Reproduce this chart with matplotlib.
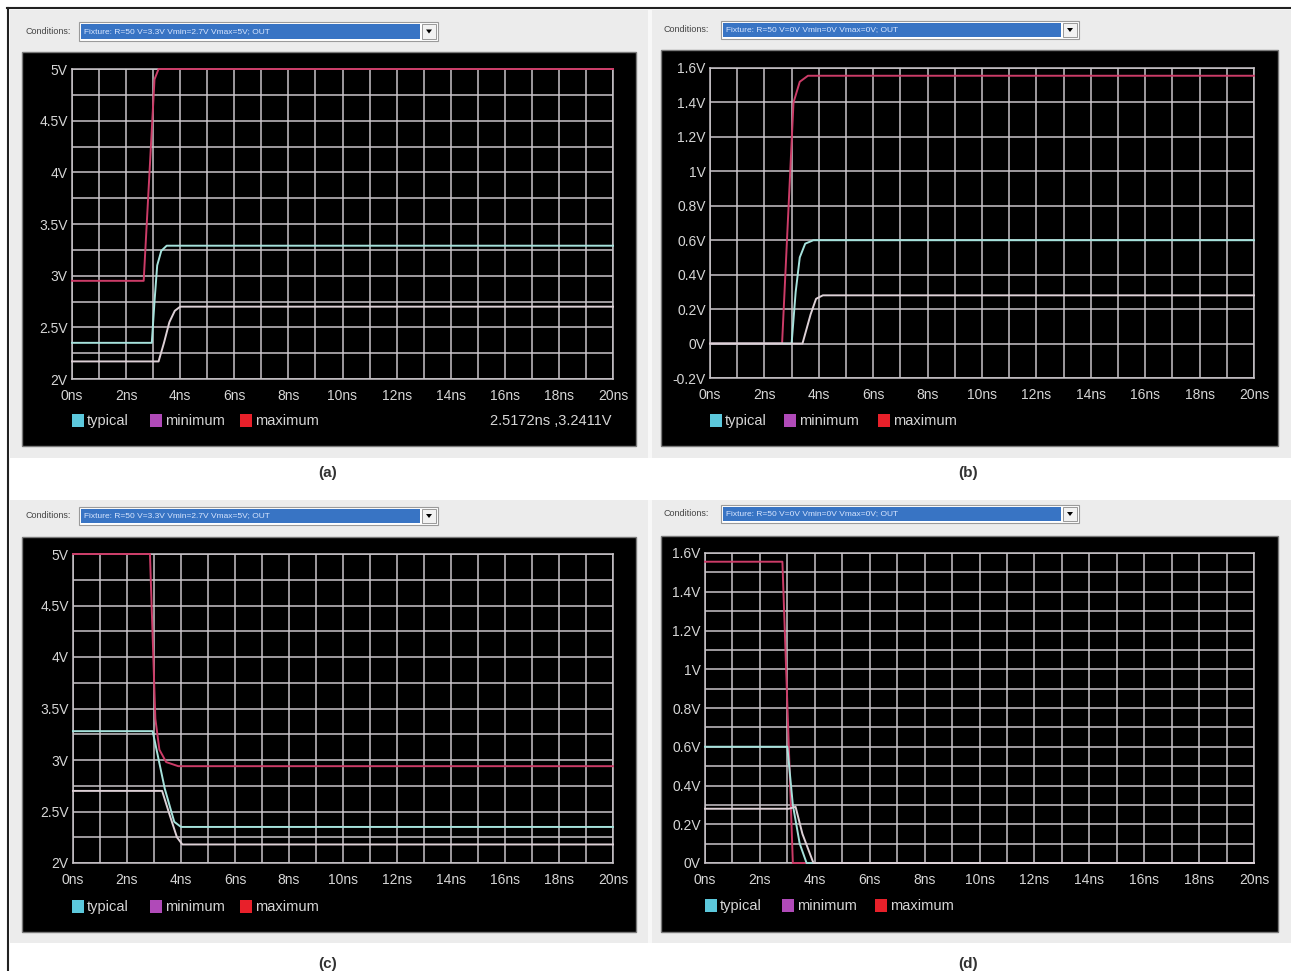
import matplotlib
matplotlib.use("Agg")
import matplotlib.pyplot as plt
from matplotlib.patches import Rectangle, Polygon

plt.rcParams['font.family'] = ['Liberation Sans', 'DejaVu Sans']

W, H = 1291, 971

# ---- data (time in ns, voltage in V) ----
legend_labels = ['typical', 'minimum', 'maximum']
x_ticks = list(range(0, 21, 2))
x_ticklabels = ['%dns' % t for t in x_ticks]

cond_5v = 'Fixture: R=50 V=3.3V Vmin=2.7V Vmax=5V; OUT'
cond_0v = 'Fixture: R=50 V=0V Vmin=0V Vmax=0V; OUT'
readout_a = '2.5172ns ,3.2411V'

y_ticks_5v = [2, 2.5, 3, 3.5, 4, 4.5, 5]
y_labels_5v = ['2V', '2.5V', '3V', '3.5V', '4V', '4.5V', '5V']
y_ticks_b = [-0.2, 0, 0.2, 0.4, 0.6, 0.8, 1.0, 1.2, 1.4, 1.6]
y_labels_b = ['-0.2V', '0V', '0.2V', '0.4V', '0.6V', '0.8V', '1V', '1.2V', '1.4V', '1.6V']
y_ticks_d = [0, 0.2, 0.4, 0.6, 0.8, 1.0, 1.2, 1.4, 1.6]
y_labels_d = ['0V', '0.2V', '0.4V', '0.6V', '0.8V', '1V', '1.2V', '1.4V', '1.6V']

# (a) rising edge, 5V fixture
a_typ_t = [0, 2.95, 3.05, 3.15, 3.3, 3.5, 20]
a_typ_v = [2.35, 2.35, 2.75, 3.1, 3.24, 3.29, 3.29]
a_min_t = [0, 3.2, 3.4, 3.6, 3.8, 4.0, 20]
a_min_v = [2.17, 2.17, 2.35, 2.55, 2.66, 2.7, 2.7]
a_max_t = [0, 2.65, 3.05, 3.2, 20]
a_max_v = [2.95, 2.95, 4.9, 5.0, 5.0]

# (b) rising edge, 0V fixture
b_typ_t = [0, 3.0, 3.15, 3.3, 3.5, 3.8, 20]
b_typ_v = [0, 0, 0.3, 0.5, 0.58, 0.6, 0.6]
b_min_t = [0, 3.4, 3.7, 3.9, 4.15, 20]
b_min_v = [0, 0, 0.17, 0.26, 0.28, 0.28]
b_max_t = [0, 2.65, 3.07, 3.3, 3.6, 20]
b_max_v = [0, 0, 1.4, 1.52, 1.555, 1.555]

# (c) falling edge, 5V fixture
c_typ_t = [0, 2.95, 3.4, 3.75, 4.0, 20]
c_typ_v = [3.28, 3.28, 2.72, 2.4, 2.35, 2.35]
c_min_t = [0, 3.3, 3.6, 3.85, 4.05, 20]
c_min_v = [2.7, 2.7, 2.45, 2.25, 2.18, 2.18]
c_max_t = [0, 2.85, 3.05, 3.2, 3.45, 3.9, 20]
c_max_v = [5.0, 5.0, 3.4, 3.1, 2.98, 2.94, 2.94]

# (d) falling edge, 0V fixture
d_typ_t = [0, 3.0, 3.2, 3.45, 3.7, 20]
d_typ_v = [0.6, 0.6, 0.3, 0.1, 0, 0]
d_min_t = [0, 3.05, 3.3, 3.55, 3.95, 20]
d_min_v = [0.28, 0.28, 0.29, 0.15, 0, 0]
d_max_t = [0, 2.82, 3.2, 20]
d_max_v = [1.555, 1.555, 0, 0]

# ---- styles ----
grid_c = '#c9c5c9'
label_c = '#d6d6d6'
trace_c = ['#a6e2dc', '#ddd0d6', '#cc3c68']
swatch_c = ['#5cc8dc', '#b04ab8', '#e8202a']
win_c = '#ececec'

fig = plt.figure(figsize=(W / 100, H / 100), dpi=100, facecolor='white')


def frac(x0, y0, x1, y1):
    return [x0 / W, 1 - y1 / H, (x1 - x0) / W, (y1 - y0) / H]


def rect(x0, y0, x1, y1, **kw):
    l, b, w, h = frac(x0, y0, x1, y1)
    fig.add_artist(Rectangle((l, b), w, h, transform=fig.transFigure, **kw))


def ftext(x, y, s, **kw):
    fig.text(x / W, 1 - y / H, s, **kw)


# window backgrounds and frame
rect(10, 10, 1291, 458, facecolor=win_c, edgecolor='none')
rect(10, 500, 1291, 943, facecolor=win_c, edgecolor='none')
rect(648, 10, 652, 458, facecolor='#f8f8f8', edgecolor='none')
rect(648, 500, 652, 943, facecolor='#f8f8f8', edgecolor='none')
fig.add_artist(plt.Line2D([7 / W, 1], [1 - 8 / H, 1 - 8 / H], transform=fig.transFigure,
                          color='#222222', lw=1.5))
fig.add_artist(plt.Line2D([8 / W, 8 / W], [0, 1 - 8 / H], transform=fig.transFigure,
                          color='#222222', lw=1.5))

panels = [
    dict(box=(22, 52, 636, 446), plot=(72, 69, 613, 379), ylim=(2, 5),
         yt=y_ticks_5v, yl=y_labels_5v, ystep=0.25, cond=cond_5v,
         cbox=(80, 23, 437, 40), clab=(25, 31), legy=421, legx=(72, 150, 240),
         data=[(a_typ_t, a_typ_v), (a_min_t, a_min_v), (a_max_t, a_max_v)],
         cap='(a)', capxy=(328, 473), readout=readout_a),
    dict(box=(661, 50, 1278, 446), plot=(710, 68, 1254, 378), ylim=(-0.2, 1.6),
         yt=y_ticks_b, yl=y_labels_b, ystep=0.2, cond=cond_0v,
         cbox=(722, 22, 1078, 38), clab=(663, 29), legy=421, legx=(710, 784, 878),
         data=[(b_typ_t, b_typ_v), (b_min_t, b_min_v), (b_max_t, b_max_v)],
         cap='(b)', capxy=(968, 473), readout=None),
    dict(box=(22, 537, 636, 932), plot=(73, 554, 613, 863), ylim=(2, 5),
         yt=y_ticks_5v, yl=y_labels_5v, ystep=0.25, cond=cond_5v,
         cbox=(80, 508, 437, 524), clab=(25, 515), legy=907, legx=(72, 150, 240),
         data=[(c_typ_t, c_typ_v), (c_min_t, c_min_v), (c_max_t, c_max_v)],
         cap='(c)', capxy=(328, 964), readout=None),
    dict(box=(661, 536, 1278, 932), plot=(705, 553, 1254, 863), ylim=(0, 1.6),
         yt=y_ticks_d, yl=y_labels_d, ystep=0.1, cond=cond_0v,
         cbox=(722, 506, 1078, 522), clab=(663, 513), legy=906, legx=(705, 782, 875),
         data=[(d_typ_t, d_typ_v), (d_min_t, d_min_v), (d_max_t, d_max_v)],
         cap='(d)', capxy=(968, 964), readout=None),
]

for p in panels:
    # conditions bar
    ftext(p['clab'][0], p['clab'][1], 'Conditions:', fontsize=6.5, color='#444444',
          va='center', ha='left')
    x0, y0, x1, y1 = p['cbox']
    rect(x0 - 1, y0 - 1, x1 + 1, y1 + 1, facecolor='white', edgecolor='#9a9a9a', lw=0.8)
    rect(x0 + 1, y0 + 1, x1 - 17, y1 - 1, facecolor='#3874c4', edgecolor='none')
    rect(x1 - 15, y0 + 1, x1 - 1, y1 - 1, facecolor='#f2f2f2', edgecolor='#8a8a8a', lw=0.6)
    ftext(x0 + 4, (y0 + y1) / 2, p['cond'], fontsize=6, color='#d8e6ff', va='center')
    cx, cy = x1 - 8, (y0 + y1) / 2
    fig.add_artist(Polygon([((cx - 3) / W, 1 - (cy - 2) / H), ((cx + 3) / W, 1 - (cy - 2) / H),
                            (cx / W, 1 - (cy + 2) / H)], closed=True,
                           transform=fig.transFigure, facecolor='black'))

    # black scope panel
    bx0, by0, bx1, by1 = p['box']
    rect(bx0, by0, bx1, by1, facecolor='black', edgecolor='#7a7a7a', lw=1)

    ax = fig.add_axes(frac(*p['plot']), facecolor='black')
    ax.set_zorder(5)
    ymin, ymax = p['ylim']
    ax.set_xlim(0, 20)
    ax.set_ylim(ymin, ymax)
    ax.set_xticks(x_ticks)
    ax.set_xticklabels(x_ticklabels)
    ax.set_xticks(range(0, 21), minor=True)
    ax.set_yticks(p['yt'])
    ax.set_yticklabels(p['yl'])
    n = int(round((ymax - ymin) / p['ystep']))
    ax.set_yticks([ymin + i * p['ystep'] for i in range(n + 1)], minor=True)
    ax.grid(which='both', color=grid_c, lw=1.1)
    ax.set_axisbelow(True)
    ax.tick_params(which='both', length=0, colors=label_c, labelsize=10)
    ax.tick_params(axis='x', pad=7)
    ax.tick_params(axis='y', pad=3)
    for s in ax.spines.values():
        s.set_color(grid_c)
        s.set_linewidth(1.1)

    # maximum drawn first, minimum last (minimum ends up on top where traces overlap)
    for i, k in enumerate((2, 0, 1)):
        t, v = p['data'][k]
        ax.plot(t, v, color=trace_c[k], lw=1.4, clip_on=False, zorder=3 + i * 0.1)

    # legend
    for lx, lab, sc in zip(p['legx'], legend_labels, swatch_c):
        rect(lx, p['legy'] - 7, lx + 12, p['legy'] + 6, facecolor=sc, edgecolor='none')
        ftext(lx + 15, p['legy'], lab, fontsize=10.5, color=label_c, va='center')
    if p['readout']:
        ftext(612, p['legy'], p['readout'], fontsize=10.5, color=label_c,
              va='center', ha='right')

    ftext(p['capxy'][0], p['capxy'][1], p['cap'], fontsize=11, fontweight='bold',
          color='#333333', ha='center', va='center')

fig.savefig('out.png', dpi=100, facecolor='white')
